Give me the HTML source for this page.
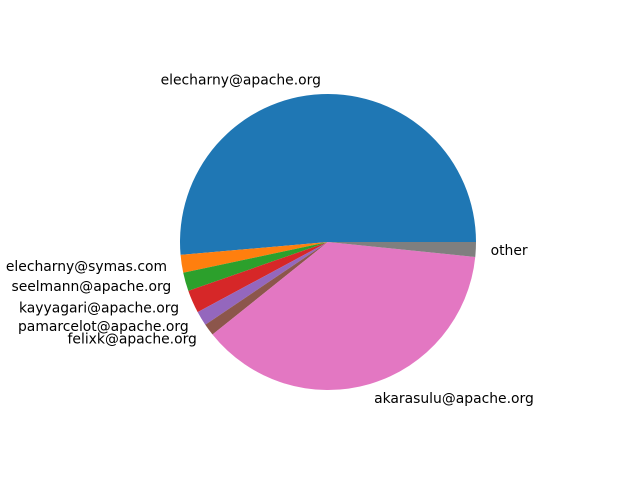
<!DOCTYPE html>
<html><head><meta charset="utf-8"><style>
html,body{margin:0;padding:0;background:#fff}
svg text{font-family:"DejaVu Sans","Liberation Sans",sans-serif;font-size:13.9px;fill:#000}
</style></head><body>
<svg id="chart" width="640" height="480" viewBox="0 0 640 480" xmlns="http://www.w3.org/2000/svg">
<rect width="640" height="480" fill="#fff"/>
<g id="slices"></g>
<g id="labels"></g>
</svg>
<script>
const categories=["elecharny@apache.org","elecharny@symas.com","seelmann@apache.org","kayyagari@apache.org","pamarcelot@apache.org","felixk@apache.org","akarasulu@apache.org","other"];
const values=[185,7,7.3,9,5.7,4.7,135.5,5.8];
const colors=["#1f77b4","#ff7f0e","#2ca02c","#d62728","#9467bd","#8c564b","#e377c2","#7f7f7f"];
const cx=328,cy=242,r=148;
const NS="http://www.w3.org/2000/svg";
const total=values.reduce((a,b)=>a+b,0);
const gS=document.getElementById('slices'),gL=document.getElementById('labels');
let a0=0;
values.forEach((v,i)=>{
  const a1=a0+v/total*2*Math.PI;
  const x0=cx+r*Math.cos(a0),y0=cy-r*Math.sin(a0);
  const x1=cx+r*Math.cos(a1),y1=cy-r*Math.sin(a1);
  const large=(a1-a0)>Math.PI?1:0;
  const p=document.createElementNS(NS,'path');
  p.setAttribute('d',`M${cx},${cy} L${x0},${y0} A${r},${r} 0 ${large} 0 ${x1},${y1} Z`);
  p.setAttribute('fill',colors[i]);
  
  
  gS.appendChild(p);
  const am=(a0+a1)/2;
  const lx=cx+1.1*r*Math.cos(am),ly=cy-1.1*r*Math.sin(am);
  const t=document.createElementNS(NS,'text');
  t.setAttribute('x',lx);t.setAttribute('y',ly+5);
  t.setAttribute('text-anchor',Math.cos(am)>=0?'start':'end');
  t.textContent=categories[i];
  
  
  gL.appendChild(t);
  a0=a1;
});
</script>
</body></html>
